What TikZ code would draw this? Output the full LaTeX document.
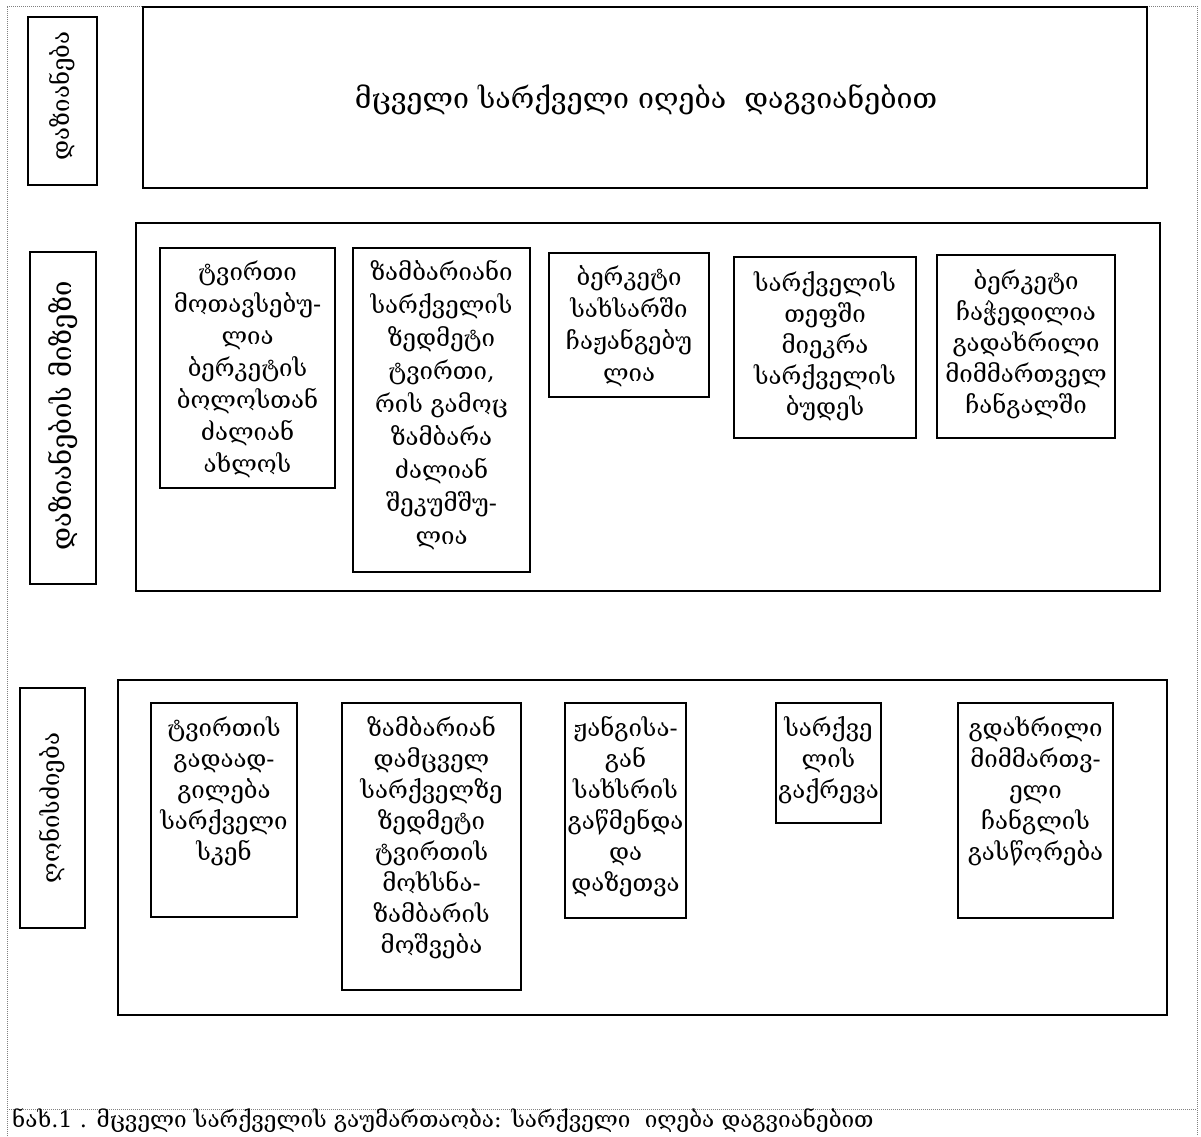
\documentclass[tikz,border=0pt]{standalone}
\usepackage{fontspec}
\newfontfamily\geo{DejaVu Serif}
\begin{document}
\begin{tikzpicture}[x=1pt,y=-1pt,
  frame/.style={draw=gray,line width=1pt,dash pattern=on 1pt off 1pt},
  box/.style={draw,line width=1.5pt},
  cell/.style={below,align=center,inner sep=0pt,font=\geo\fontsize{24}{32}\selectfont},
  side/.style={rotate=90,inner sep=0pt,font=\geo\fontsize{24}{29}\selectfont}]
\useasboundingbox (0,0) rectangle (1201,1136);
% page frame and caption rule
\draw[frame] (7,1136) -- (7,6) -- (1197,6) -- (1197,1136);
\draw[frame] (7,1109) -- (1197,1109);
% damage
\draw[box] (28,17) rectangle (97,185);
\node[side] (dmglbl) at (62,96) {დაზიანება};
\draw[box,line width=2pt] (143,7) rectangle (1147,188);
\node[inner sep=0pt,font=\geo\fontsize{28.5}{34}\selectfont] (dmg) at (646,100) {მცველი სარქველი იღება\ \ დაგვიანებით};
% causes
\draw[box] (136,223) rectangle (1160,591);
\draw[box] (30,252) rectangle (96,584);
\node[side,font=\geo\fontsize{27.5}{32}\selectfont] (causelbl) at (63,416) {დაზიანების მიზეზი};
\draw[box] (160,248) rectangle (335,488);
\node[cell] (c1) at (247.5,261) {ტვირთი\\მოთავსებუ-\\ლია\\ბერკეტის\\ბოლოსთან\\ძალიან\\ახლოს};
\draw[box] (353,248) rectangle (530,572);
\node[cell,font=\geo\fontsize{24}{33}\selectfont] (c2) at (441.5,260) {ზამბარიანი\\სარქველის\\ზედმეტი\\ტვირთი,\\რის გამოც\\ზამბარა\\ძალიან\\შეკუმშუ-\\ლია};
\draw[box] (549,253) rectangle (709,397);
\node[cell] (c3) at (629,265) {ბერკეტი\\სახსარში\\ჩაჟანგებუ\\ლია};
\draw[box] (734,257) rectangle (916,438);
\node[cell,font=\geo\fontsize{24}{31}\selectfont] (c4) at (825,271) {სარქველის\\თეფში\\მიეკრა\\სარქველის\\ბუდეს};
\draw[box] (937,255) rectangle (1115,438);
\node[cell,font=\geo\fontsize{24}{31}\selectfont] (c5) at (1026,269) {ბერკეტი\\ჩაჭედილია\\გადახრილი\\მიმმართველ\\ჩანგალში};
% measures
\draw[box] (118,680) rectangle (1167,1015);
\draw[box] (20,688) rectangle (85,928);
\node[side] (fixlbl) at (52,808) {ღონისძიება};
\tikzset{cell/.append style={font=\geo\fontsize{24}{31}\selectfont}}
\draw[box] (151,703) rectangle (297,917);
\node[cell] (m1) at (224,716) {ტვირთის\\გადაად-\\გილება\\სარქველი\\სკენ};
\draw[box] (342,703) rectangle (521,990);
\node[cell] (m2) at (431.5,716) {ზამბარიან\\დამცველ\\სარქველზე\\ზედმეტი\\ტვირთის\\მოხსნა-\\ზამბარის\\მოშვება};
\draw[box] (565,703) rectangle (686,918);
\node[cell] (m3) at (625.5,716) {ჟანგისა-\\გან\\სახსრის\\გაწმენდა\\და\\დაზეთვა};
\draw[box] (776,703) rectangle (881,823);
\node[cell] (m4) at (828.5,716) {სარქვე\\ლის\\გაქრევა};
\draw[box] (958,703) rectangle (1113,918);
\node[cell] (m5) at (1035.5,716) {გდახრილი\\მიმმართვ-\\ელი\\ჩანგლის\\გასწორება};
% caption
\node[anchor=base west,inner sep=0pt,font=\geo\fontsize{22.5}{27}\selectfont] (cap) at (12,1127) {ნახ.1 . მცველი სარქველის გაუმართაობა: სარქველი\ \ იღება დაგვიანებით};
\end{tikzpicture}
\end{document}
